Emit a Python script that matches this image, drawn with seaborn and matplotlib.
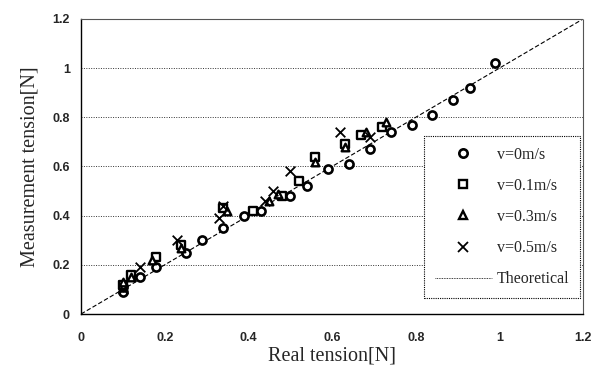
import numpy as np
import pandas as pd
import matplotlib
matplotlib.use("Agg")
import matplotlib.pyplot as plt
import seaborn as sns
from matplotlib.lines import Line2D

# v = 0 m/s
v0_real = [0.10, 0.10, 0.14, 0.18, 0.25, 0.29, 0.34, 0.39, 0.43, 0.50,
           0.54, 0.59, 0.64, 0.69, 0.74, 0.79, 0.84, 0.89, 0.93, 0.99]
v0_meas = [0.09, 0.11, 0.15, 0.19, 0.25, 0.30, 0.35, 0.40, 0.42, 0.48,
           0.52, 0.59, 0.61, 0.67, 0.74, 0.77, 0.81, 0.87, 0.92, 1.02]
# v = 0.1 m/s
v1_real = [0.10, 0.12, 0.18, 0.24, 0.34, 0.41, 0.48, 0.52, 0.56, 0.63, 0.67, 0.72]
v1_meas = [0.12, 0.16, 0.23, 0.28, 0.43, 0.42, 0.48, 0.54, 0.64, 0.69, 0.73, 0.76]
# v = 0.3 m/s
v3_real = [0.10, 0.12, 0.17, 0.24, 0.35, 0.45, 0.47, 0.56, 0.63, 0.68, 0.73]
v3_meas = [0.13, 0.15, 0.22, 0.27, 0.42, 0.46, 0.49, 0.62, 0.68, 0.74, 0.78]
# v = 0.5 m/s
v5_real = [0.10, 0.14, 0.23, 0.33, 0.34, 0.44, 0.46, 0.50, 0.62, 0.69]
v5_meas = [0.10, 0.19, 0.30, 0.39, 0.44, 0.46, 0.50, 0.58, 0.74, 0.72]

theory = [0.0, 1.2]

x_ticks = [0, 0.2, 0.4, 0.6, 0.8, 1, 1.2]
x_ticklabels = ["0", "0.2", "0.4", "0.6", "0.8", "1", "1.2"]
y_ticks = [0, 0.2, 0.4, 0.6, 0.8, 1, 1.2]
y_ticklabels = ["0", "0.2", "0.4", "0.6", "0.8", "1", "1.2"]

sns.set_style("white")
serif = ["Liberation Serif", "DejaVu Serif"]
sans = ["Liberation Sans", "DejaVu Sans"]

fig = plt.figure(figsize=(5.98, 3.65), dpi=100)
ax = fig.add_axes([0.1355, 0.1397, 0.8395, 0.8083])

sns.lineplot(x=theory, y=theory, ax=ax, color="black", linewidth=0.8,
             linestyle=(0, (4, 2)), zorder=2)

sns.scatterplot(x=v0_real, y=v0_meas, ax=ax, marker="o", s=34,
                facecolor="white", edgecolor="black", linewidth=1.9, zorder=4)
sns.scatterplot(x=v1_real, y=v1_meas, ax=ax, marker="s", s=30,
                facecolor="white", edgecolor="black", linewidth=1.7, zorder=4)
sns.scatterplot(x=v3_real, y=v3_meas, ax=ax, marker="^", s=30,
                facecolor="white", edgecolor="black", linewidth=1.7, zorder=4)
sns.scatterplot(x=v5_real, y=v5_meas, ax=ax, marker="x", s=48,
                color="black", linewidth=1.3, zorder=4)

ax.set_xlim(0, 1.2)
ax.set_ylim(0, 1.2)
ax.set_xticks(x_ticks)
ax.set_xticklabels(x_ticklabels, family=sans, fontweight="bold", fontsize=9)
ax.set_yticks(y_ticks)
ax.set_yticklabels(y_ticklabels, family=sans, fontweight="bold", fontsize=9)
ax.tick_params(axis="both", direction="in", length=3, width=0.8)
ax.tick_params(axis="x", pad=13)
ax.tick_params(axis="y", pad=8)

ax.yaxis.grid(True, color="#333333", linestyle=(0, (1, 1.5)), linewidth=0.7)
ax.xaxis.grid(False)
ax.set_axisbelow(True)

for side in ["left", "bottom"]:
    ax.spines[side].set_color("black")
    ax.spines[side].set_linewidth(1.0)
for side in ["top", "right"]:
    ax.spines[side].set_color("#555555")
    ax.spines[side].set_linewidth(0.8)
    ax.spines[side].set_linestyle((0, (1, 1)))

ax.set_xlabel("Real tension[N]", family=serif, fontsize=14.5, labelpad=1.5)
ax.set_ylabel("Measurement tension[N]", family=serif, fontsize=14.5, labelpad=9)

handles = [
    Line2D([0], [0], marker="o", color="none", markerfacecolor="white",
           markeredgecolor="black", markeredgewidth=1.9, markersize=6),
    Line2D([0], [0], marker="s", color="none", markerfacecolor="white",
           markeredgecolor="black", markeredgewidth=1.7, markersize=5.5),
    Line2D([0], [0], marker="^", color="none", markerfacecolor="white",
           markeredgecolor="black", markeredgewidth=1.7, markersize=5.5),
    Line2D([0], [0], marker="x", color="none", markeredgecolor="black",
           markeredgewidth=1.3, markersize=7.5),
    Line2D([0], [0], color="black", linewidth=0.6, linestyle=(0, (1, 1))),
]
labels = ["v=0m/s", "v=0.1m/s", "v=0.3m/s", "v=0.5m/s", "Theoretical"]
leg = ax.legend(handles, labels, loc="lower right", bbox_to_anchor=(0.994, 0.055),
                frameon=True, fancybox=False, framealpha=1, edgecolor="black",
                prop={"family": serif, "size": 11.5}, handlelength=3.6,
                labelspacing=0.95, borderpad=0.65, handletextpad=0.3,
                borderaxespad=0)
leg.get_frame().set_linewidth(0.8)
leg.get_frame().set_linestyle((0, (1, 1)))

fig.savefig("out.png", dpi=100)
